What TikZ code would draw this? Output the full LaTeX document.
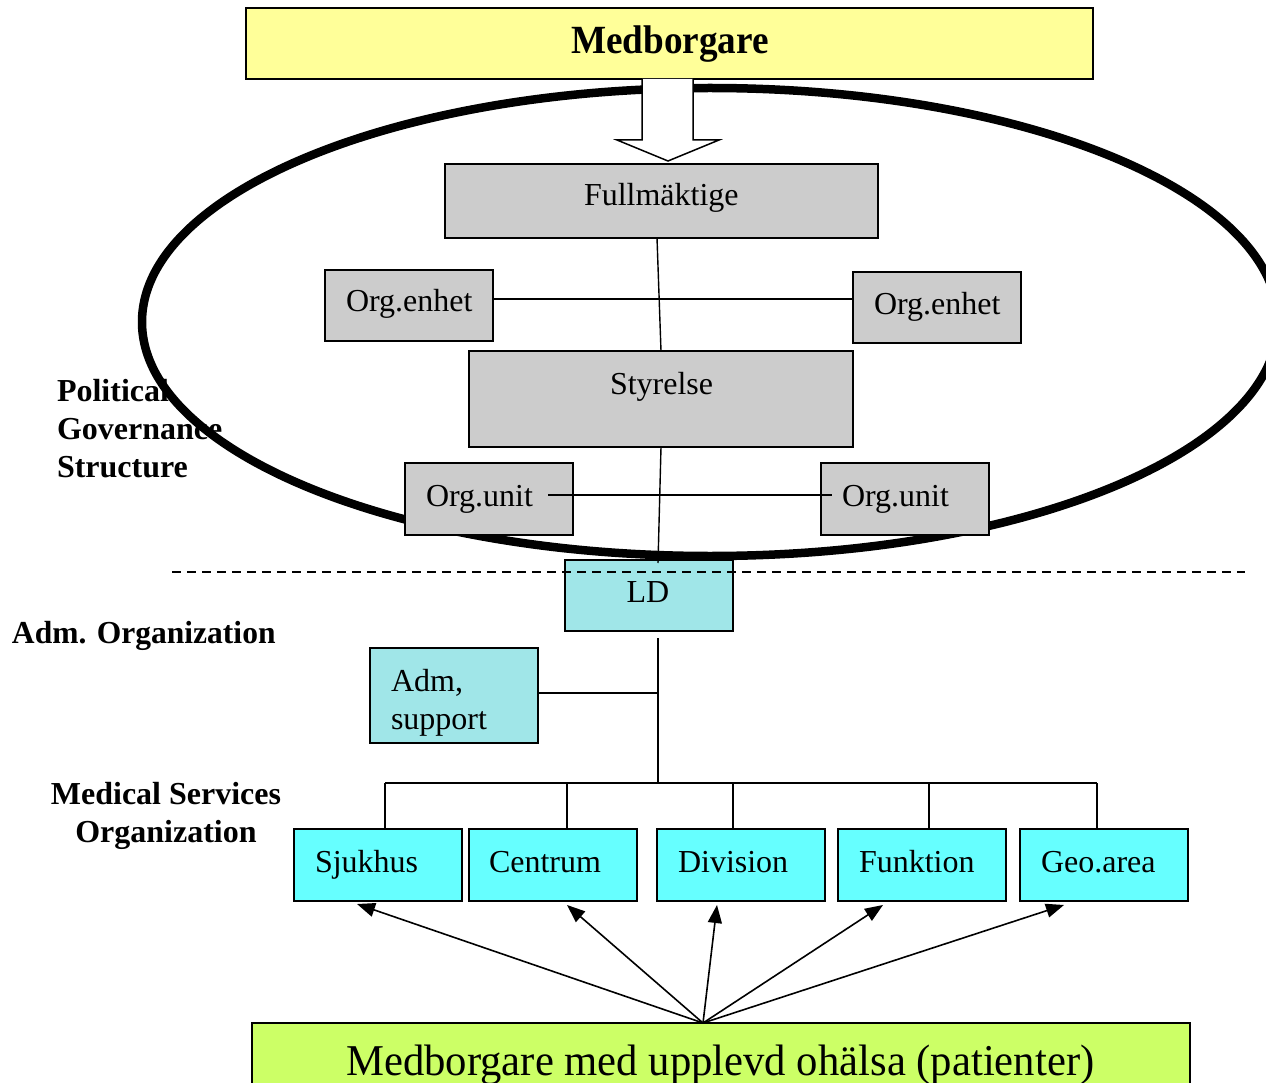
\documentclass[tikz,border=0pt]{standalone}
\usepackage{fontspec}
\setmainfont{Liberation Serif}
\usetikzlibrary{arrows.meta}
\definecolor{yel}{HTML}{FFFF99}
\definecolor{grayb}{HTML}{CCCCCC}
\definecolor{turq}{HTML}{A0E6E8}
\definecolor{cyanb}{HTML}{66FFFF}
\definecolor{greenb}{HTML}{CCFF66}
\begin{document}
\begin{tikzpicture}[x=1pt,y=-1pt,
  box/.style={draw=black, line width=1.6pt, inner sep=0pt, outer sep=0pt},
  small/.style={minimum width=168pt, minimum height=71pt},
  txt/.style={inner sep=0pt, outer sep=0pt, font=\fontsize{32}{38}\selectfont, anchor=base west},
  lbl/.style={inner sep=0pt, outer sep=0pt, font=\fontsize{32}{38}\selectfont\bfseries},
  conn/.style={draw=black, line width=1.4pt},
  arr/.style={draw=black, line width=1.6pt, -{Triangle[length=18pt,width=14pt]}},
  bigarrow/.style={draw=black, line width=1.5pt, fill=white, line join=miter}
]
\useasboundingbox (0,0) rectangle (1266,1083);
\clip (0,0) rectangle (1266,1083);

% side labels (under the ellipse)
\node[lbl, anchor=base west, align=left] (lpol) at (57,477) {Political\\Governance\\Structure};
\node[lbl, anchor=base west] (ladm) at (12,643) {\scalebox{0.985}[1]{Adm. Organization}};
\node[lbl, anchor=base, align=center] (lmed) at (166,842) {Medical Services\\Organization};

% ellipse
\draw[line width=8.5pt] (710,322) ellipse [x radius=568, y radius=234];

% top box and big arrow
\node[box, fill=yel, minimum width=847pt, minimum height=71pt] (med) at (669.5,43.5) {};
\node[inner sep=0pt, anchor=base west, font=\fontsize{40}{46}\selectfont\bfseries] (medt) at (571,54) {\scalebox{0.93}[1]{Medborgare}};
\draw[bigarrow] (642,79) -- (642,140) -- (617,140) -- (668,161) -- (719,140) -- (693,140) -- (693,79);

% political boxes
\node[box, fill=grayb, minimum width=433pt, minimum height=74pt] (ful) at (661.5,201) {};
\node[box, fill=grayb, small] (oel) at (409,305.5) {};
\node[box, fill=grayb, small] (oer) at (937,307.5) {};
\node[box, fill=grayb, minimum width=384pt, minimum height=96pt] (sty) at (661,399) {};
\node[box, fill=grayb, minimum width=168pt, minimum height=72pt] (ou1) at (489,499) {};
\node[box, fill=grayb, minimum width=168pt, minimum height=72pt] (ou2) at (905,499) {};

\node[txt] (fult) at (584,206) {Fullmäktige};
\node[txt] (oelt) at (346,312) {Org.enhet};
\node[txt] (oert) at (874,314) {Org.enhet};
\node[txt] (styt) at (610,394) {Styrelse};
\node[txt] (ou1t) at (426,506) {Org.unit};
\node[txt] (ou2t) at (842,506) {Org.unit};

% adm boxes
\node[box, fill=turq, small] (ld) at (649,595.5) {};
\node[txt, anchor=base] (ldt) at (648,602) {LD};
\node[box, fill=turq, minimum width=168pt, minimum height=95pt] (adm) at (454,695.5) {};
\node[txt, anchor=base west, align=left] (admt) at (391,729) {Adm,\\support};

% medical boxes
\node[box, fill=cyanb, minimum width=168pt, minimum height=72pt] (s1) at (378,865) {};
\node[box, fill=cyanb, minimum width=168pt, minimum height=72pt] (s2) at (553,865) {};
\node[box, fill=cyanb, minimum width=168pt, minimum height=72pt] (s3) at (741,865) {};
\node[box, fill=cyanb, minimum width=168pt, minimum height=72pt] (s4) at (922,865) {};
\node[box, fill=cyanb, minimum width=168pt, minimum height=72pt] (s5) at (1104,865) {};
\node[txt] (s1t) at (315,872) {Sjukhus};
\node[txt] (s2t) at (489,872) {Centrum};
\node[txt] (s3t) at (678,872) {Division};
\node[txt] (s4t) at (859,872) {Funktion};
\node[txt] (s5t) at (1041,872) {Geo.area};

% bottom box
\node[box, fill=greenb, minimum width=938pt, minimum height=77pt] (pat) at (721,1061.5) {};
\node[inner sep=0pt, anchor=base west, font=\fontsize{44}{50}\selectfont] (patt) at (346,1075) {\scalebox{0.97}[1]{Medborgare med upplevd ohälsa (patienter)}};

% connectors
\draw[conn] ([xshift=-4.5pt]ful.south) -- (sty.north);
\draw[conn] (sty.south) -- ([xshift=9pt,yshift=-3pt]ld.north);
\draw[conn] (oel.east |- 0,299) -- (oer.west |- 0,299);
\draw[conn] ([shift={(-25,-4)}]ou1.east) -- ([shift={(11,-4)}]ou2.west);

\coordinate (ldb) at (658,638);
\coordinate (jn) at (658,693);
\coordinate (bm) at (658,783);
\coordinate (b1) at (385,783);
\coordinate (b2) at (567,783);
\coordinate (b3) at (733,783);
\coordinate (b4) at (929,783);
\coordinate (b5) at (1097,783);
\draw[conn] (ldb) -- (bm);
\draw[conn] (adm.east |- jn) -- (jn);
\draw[conn] (b1) -- (b5);
\draw[conn] (b1) -- (b1 |- s1.north);
\draw[conn] (b2) -- (b2 |- s2.north);
\draw[conn] (b3) -- (b3 |- s3.north);
\draw[conn] (b4) -- (b4 |- s4.north);
\draw[conn] (b5) -- (b5 |- s5.north);

% dashed divider
\coordinate (dl) at (172,572);
\coordinate (dr) at (1245,572);
\draw[black, line width=1.4pt, dash pattern=on 9pt off 6pt] (dl) -- (dr);

% arrows from patients
\coordinate (src) at (703,1023);
\draw[arr] (src) -- ([xshift=-21pt,yshift=-3pt]s1.south);
\draw[arr] (src) -- ([xshift=14pt,yshift=-4pt]s2.south);
\draw[arr] (src) -- ([xshift=-24pt,yshift=-4pt]s3.south);
\draw[arr] (src) -- ([xshift=-39pt,yshift=-4pt]s4.south);
\draw[arr] (src) -- ([xshift=-40pt,yshift=-4pt]s5.south);
\end{tikzpicture}
\end{document}
